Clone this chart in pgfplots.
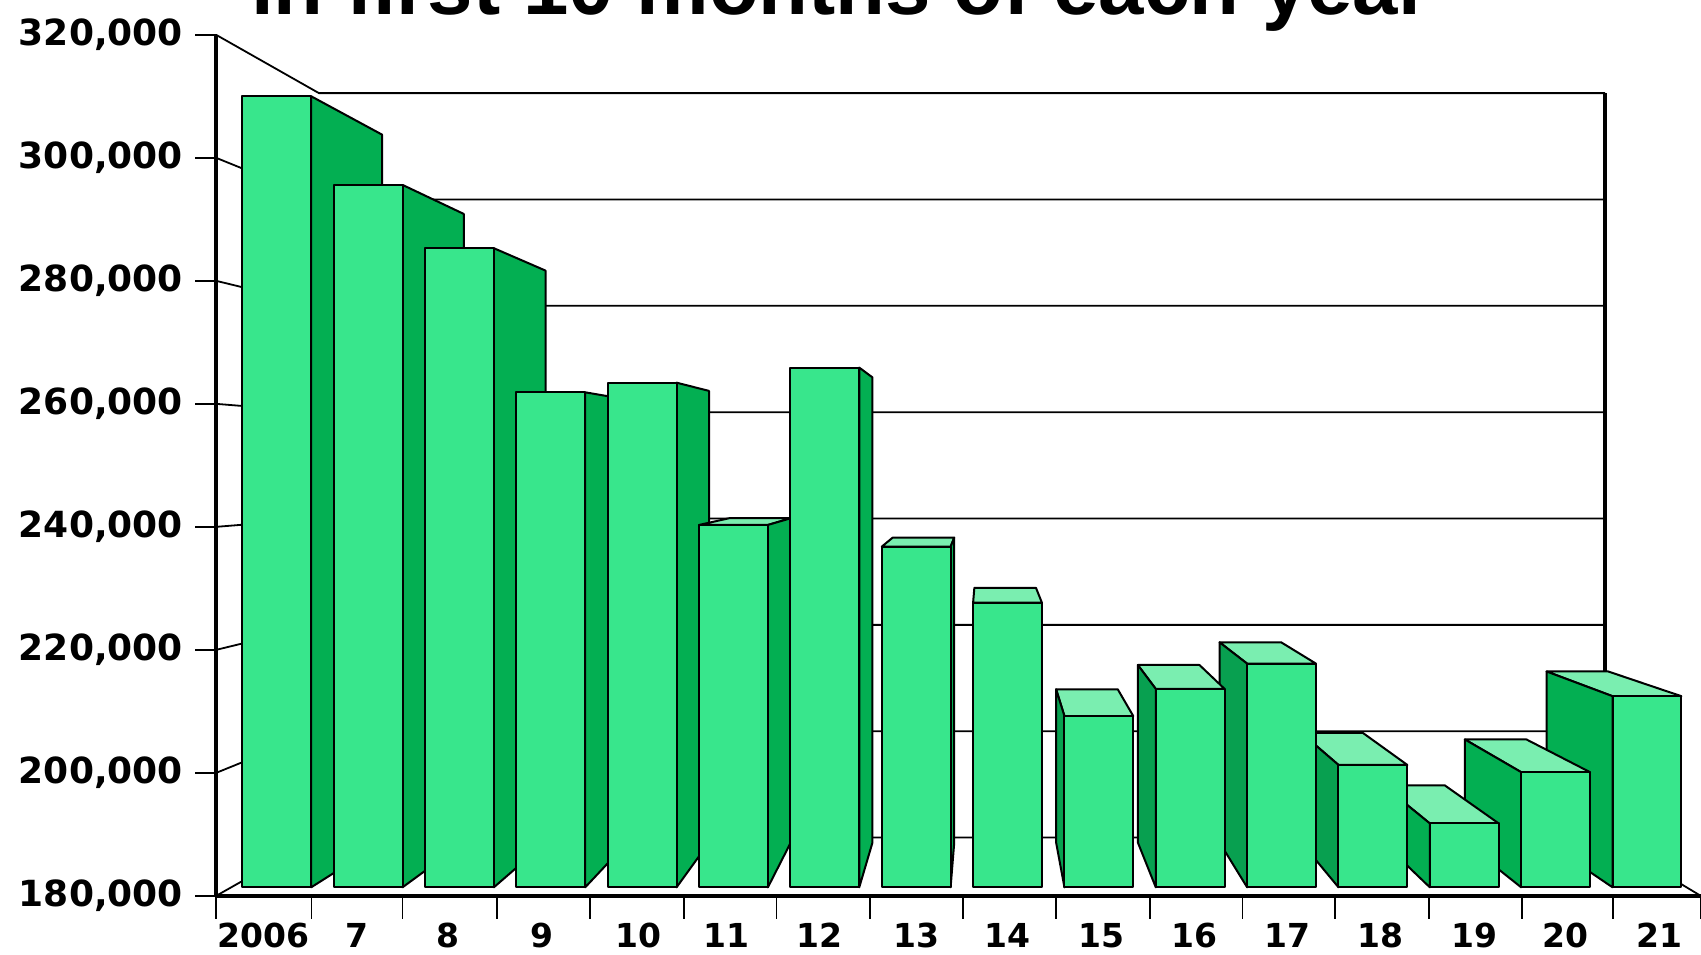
\documentclass[border=0pt]{standalone}
\usepackage{fontspec}
\usepackage{pgfplots}
\usepackage{pgfplotstable}
\pgfplotsset{compat=1.18}
\setmainfont{DejaVu Sans}
\newfontfamily\titlefont{Liberation Sans}

\definecolor{barfront}{RGB}{56,230,140}
\definecolor{barside}{RGB}{3,175,82}
\definecolor{barsidedark}{RGB}{8,160,80}
\definecolor{bartop}{RGB}{122,238,176}

% values in thousands
\pgfplotstableread{
idx val
0   311.2
1   296.5
2   286.0
3   262.1
4   263.7
5   240.1
6   266.2
7   236.5
8   227.2
9   208.4
10  212.9
11  217.1
12  200.3
13  190.6
14  199.1
15  211.7
}\bardata

% vanishing point (axis units) and depth scales
\def\vx{8.287}
\def\vy{250.7}
\def\sf{0.98}
\def\sb{0.877}

\newcommand{\onebar}[1]{%
  \pgfplotstablegetelem{#1}{val}\of\bardata
  \let\v\pgfplotsretval
  \pgfmathsetmacro{\xl}{#1*1.0042+0.5-0.3785}
  \pgfmathsetmacro{\xr}{#1*1.0042+0.5+0.3785}
  \pgfmathsetmacro{\xlf}{\vx+\sf*(\xl-\vx)}
  \pgfmathsetmacro{\xrf}{\vx+\sf*(\xr-\vx)}
  \pgfmathsetmacro{\xlb}{\vx+\sb*(\xl-\vx)}
  \pgfmathsetmacro{\xrb}{\vx+\sb*(\xr-\vx)}
  \pgfmathsetmacro{\ytf}{\vy+\sf*(\v-\vy)}
  \pgfmathsetmacro{\ytb}{\vy+\sb*(\v-\vy)}
  \pgfmathsetmacro{\ybf}{\vy+\sf*(180-\vy)}
  \pgfmathsetmacro{\ybb}{\vy+\sb*(180-\vy)}
  \pgfmathtruncatemacro{\showtop}{\v<\vy ? 1 : 0}
  \pgfmathtruncatemacro{\showright}{\xr<\vx ? 1 : 0}
  \pgfmathtruncatemacro{\showleft}{\xl>\vx ? 1 : 0}
  \ifnum#1<13 \def\sidecol{barsidedark}\else\def\sidecol{barside}\fi
  \ifnum#1<8 \def\sidecol{barside}\fi
  \ifnum\showtop=1
    \edef\tmp{\noexpand\addplot[draw=black,line width=1pt,line join=round,fill=bartop] coordinates {(\xlf,\ytf) (\xrf,\ytf) (\xrb,\ytb) (\xlb,\ytb)} --cycle;}\tmp
  \fi
  \ifnum\showright=1
    \edef\tmp{\noexpand\addplot[draw=black,line width=1pt,line join=round,fill=\sidecol] coordinates {(\xrf,\ytf) (\xrb,\ytb) (\xrb,\ybb) (\xrf,\ybf)} --cycle;}\tmp
  \fi
  \ifnum\showleft=1
    \edef\tmp{\noexpand\addplot[draw=black,line width=1pt,line join=round,fill=\sidecol] coordinates {(\xlf,\ytf) (\xlb,\ytb) (\xlb,\ybb) (\xlf,\ybf)} --cycle;}\tmp
  \fi
  \edef\tmp{\noexpand\addplot[draw=black,line width=1pt,line join=round,fill=barfront] coordinates {(\xlf,\ybf) (\xlf,\ytf) (\xrf,\ytf) (\xrf,\ybf)} --cycle;}\tmp
}

\newcommand{\wallline}[1]{%
  \pgfmathsetmacro{\yw}{250+0.8643*(#1-250)}
  \edef\tmp{\noexpand\addplot[black,line width=0.9pt] coordinates {(0,#1) (1.110,\yw) (14.966,\yw)};}\tmp
}

\begin{document}
\begin{tikzpicture}
\path[use as bounding box,clip] (0,0) rectangle (850.5pt,477pt);
\begin{axis}[
    at={(107.95pt,29pt)},anchor=south west,
    scale only axis,width=742.55pt,height=430.65pt,
    xmin=0,xmax=16,ymin=180,ymax=320,
    axis lines=left,
    axis line style={-,line width=2pt},
    axis on top,
    tick align=outside,
    tickpos=left,
    ytick={180,200,...,320},
    yticklabels={{180,000},{200,000},{220,000},{240,000},{260,000},{280,000},{300,000},{320,000}},
    xtick={0.51,1.52,2.50,3.51,4.55,5.50,6.50,7.55,8.53,9.54,10.54,11.54,12.55,13.56,14.54,15.55},
    xticklabels={2006,7,8,9,10,11,12,13,14,15,16,17,18,19,20,21},
    minor xtick={0,1.03,2.01,3.03,4.03,5.04,6.04,7.05,8.05,9.05,10.06,11.06,12.06,13.07,14.07,15.05,16},
    major tick length=10.3pt,
    minor tick length=11.4pt,
    major x tick style={draw=none},
    minor x tick style={black,line width=0.9pt},
    major y tick style={black,line width=0.9pt},
    y tick label style={font=\bfseries\fontsize{18}{20}\selectfont,inner sep=0pt,xshift=-6pt},
    x tick label style={font=\bfseries\fontsize{16.5}{20}\selectfont,inner sep=0pt,yshift=-2.7pt,text height=12.5pt,text depth=0pt},
]
% back wall and left side of the box
\pgfplotsinvokeforeach{180,200,...,320}{\wallline{#1}}
\addplot[black,line width=0.9pt] coordinates {(16,180) (14.966,189.4)};
\addplot[black,line width=1.7pt] coordinates {(14.966,189.4) (14.966,310.5)};
% bars, outer ones first
\pgfplotsinvokeforeach{0,...,7}{\onebar{#1}}
\pgfplotsinvokeforeach{15,14,...,8}{\onebar{#1}}
\end{axis}
\node[anchor=base,inner sep=0pt] at (420.3pt,469.5pt) {\titlefont\bfseries\fontsize{40.8}{44}\selectfont in first 10 months of each year};
\end{tikzpicture}
\end{document}
